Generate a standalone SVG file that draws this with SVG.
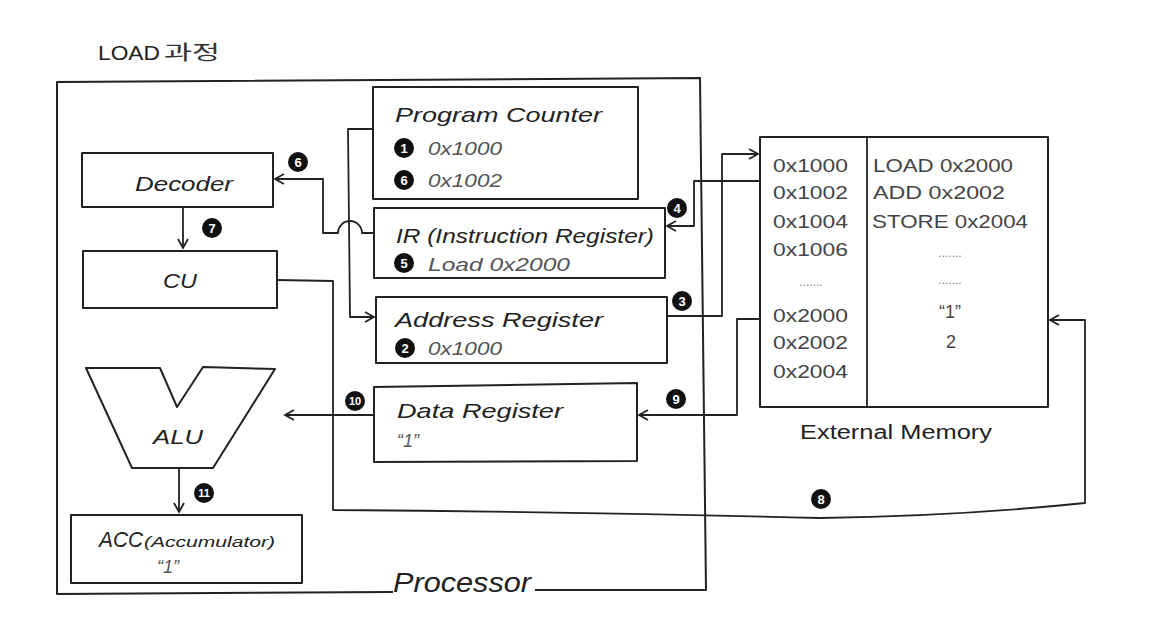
<svg xmlns="http://www.w3.org/2000/svg" width="1166" height="644" viewBox="0 0 1166 644">
<defs>
<style>
.box{fill:#fff;stroke:#222;stroke-width:2;stroke-linejoin:round}
.ln{fill:none;stroke:#222;stroke-width:1.8;stroke-linejoin:round}
.t{font-family:"Liberation Sans","Noto Sans CJK KR",sans-serif;font-style:italic;fill:#222}
.up{font-style:normal}
.v{font-family:"Liberation Sans",sans-serif;font-style:italic;fill:#555}
.m{font-family:"Liberation Sans",sans-serif;fill:#444;font-size:18px}
.b circle{fill:#111}
.b text{font-family:"Liberation Sans",sans-serif;font-weight:bold;fill:#fff;font-size:13px;text-anchor:middle}
.dots{font-family:"Liberation Sans",sans-serif;fill:#777;font-size:12px;text-anchor:middle}
</style>
<marker id="ah" markerWidth="12" markerHeight="12" refX="10" refY="6" orient="auto" markerUnits="userSpaceOnUse">
<path d="M1,1 L10,6 L1,11" fill="none" stroke="#222" stroke-width="1.8"/>
</marker>
</defs>
<rect width="1166" height="644" fill="#fff"/>

<g id="title">
<text class="t up" x="98" y="60" font-size="21" textLength="62" lengthAdjust="spacingAndGlyphs">LOAD</text>
<text x="164" y="60" font-family="Noto Sans CJK KR, sans-serif" font-size="20" fill="#333" textLength="56" lengthAdjust="spacingAndGlyphs">과정</text>
</g>

<g id="processor">
<path class="ln" style="stroke-width:2" d="M393,592 L57,594 L57,82 L700,78 L706,590 L535,590"/>
<text class="t" x="393" y="592" font-size="27" textLength="138" lengthAdjust="spacingAndGlyphs">Processor</text>
</g>

<g id="program-counter">
<rect class="box" x="373" y="87" width="265" height="112"/>
<text class="t" x="395" y="122" font-size="21" textLength="207" lengthAdjust="spacingAndGlyphs">Program Counter</text>
<g class="b" transform="translate(404,148)"><circle r="10"/><text y="5">1</text></g>
<text class="v" x="428" y="155" font-size="18" textLength="74" lengthAdjust="spacingAndGlyphs">0x1000</text>
<g class="b" transform="translate(404,180)"><circle r="10"/><text y="5">6</text></g>
<text class="v" x="428" y="187" font-size="18" textLength="74" lengthAdjust="spacingAndGlyphs">0x1002</text>
</g>

<g id="instruction-register">
<rect class="box" x="374" y="208" width="291" height="70"/>
<text class="t" x="396" y="243" font-size="20" textLength="258" lengthAdjust="spacingAndGlyphs">IR (Instruction Register)</text>
<g class="b" transform="translate(404,263)"><circle r="10"/><text y="5">5</text></g>
<text class="v" x="428" y="271" font-size="19" textLength="142" lengthAdjust="spacingAndGlyphs">Load 0x2000</text>
</g>

<g id="address-register">
<rect class="box" x="376" y="297" width="291" height="66"/>
<text class="t" x="395" y="327" font-size="21" textLength="208" lengthAdjust="spacingAndGlyphs">Address Register</text>
<g class="b" transform="translate(405,348)"><circle r="10"/><text y="5">2</text></g>
<text class="v" x="428" y="355" font-size="18" textLength="74" lengthAdjust="spacingAndGlyphs">0x1000</text>
</g>

<g id="data-register">
<path class="box" d="M374,387 L637,383 L637,461 L374,462 Z"/>
<text class="t" x="397" y="418" font-size="21" textLength="166" lengthAdjust="spacingAndGlyphs">Data Register</text>
<text class="v" x="397" y="447" font-size="18">“1”</text>
</g>

<g id="decoder">
<rect class="box" x="82" y="153" width="191" height="54"/>
<text class="t" x="135" y="191" font-size="21" textLength="98" lengthAdjust="spacingAndGlyphs">Decoder</text>
</g>

<g id="cu">
<rect class="box" x="83" y="251" width="194" height="57"/>
<text class="t" x="163" y="288" font-size="21" textLength="34" lengthAdjust="spacingAndGlyphs">CU</text>
</g>

<g id="alu">
<path class="box" d="M86,368 L160,368 L177,407 L203,367 L275,369 L213,468 L132,468 Z"/>
<text class="t" x="153" y="444" font-size="21" textLength="50" lengthAdjust="spacingAndGlyphs">ALU</text>
</g>

<g id="acc">
<rect class="box" x="71" y="515" width="231" height="68"/>
<text class="t" x="99" y="547" font-size="22" textLength="44" lengthAdjust="spacingAndGlyphs">ACC</text>
<text class="t" x="144" y="547" font-size="15" textLength="131" lengthAdjust="spacingAndGlyphs">(Accumulator)</text>
<text class="v" x="157" y="573" font-size="18">“1”</text>
</g>

<g id="external-memory">
<rect class="box" x="760" y="137" width="288" height="270"/>
<line class="ln" x1="867" y1="137" x2="867" y2="407"/>
<text class="m" x="773" y="172" textLength="75" lengthAdjust="spacingAndGlyphs">0x1000</text>
<text class="m" x="773" y="199" textLength="75" lengthAdjust="spacingAndGlyphs">0x1002</text>
<text class="m" x="773" y="228" textLength="75" lengthAdjust="spacingAndGlyphs">0x1004</text>
<text class="m" x="773" y="256" textLength="75" lengthAdjust="spacingAndGlyphs">0x1006</text>
<text class="dots" x="811" y="286">.......</text>
<text class="m" x="773" y="322" textLength="75" lengthAdjust="spacingAndGlyphs">0x2000</text>
<text class="m" x="773" y="349" textLength="75" lengthAdjust="spacingAndGlyphs">0x2002</text>
<text class="m" x="773" y="378" textLength="75" lengthAdjust="spacingAndGlyphs">0x2004</text>
<text class="m" x="873" y="172" textLength="140" lengthAdjust="spacingAndGlyphs">LOAD 0x2000</text>
<text class="m" x="873" y="199" textLength="132" lengthAdjust="spacingAndGlyphs">ADD 0x2002</text>
<text class="m" x="872" y="228" textLength="156" lengthAdjust="spacingAndGlyphs">STORE 0x2004</text>
<text class="dots" x="950" y="257">.......</text>
<text class="dots" x="950" y="284">.......</text>
<text class="m" x="950" y="318" text-anchor="middle" font-size="16">“1”</text>
<text class="m" x="951" y="348" text-anchor="middle" font-size="15">2</text>
<text class="t up" x="800" y="439" font-size="20" textLength="192" lengthAdjust="spacingAndGlyphs">External Memory</text>
</g>

<g id="connectors">
<path class="ln" d="M373,129 L348,129 L350,317 L374,317" marker-end="url(#ah)"/>
<path class="ln" d="M374,233 L362,233 A12,12 0 0 0 338,233 L323,233 L323,179 L275,179" marker-end="url(#ah)"/>
<g class="b" transform="translate(298,162)"><circle r="10"/><text y="5">6</text></g>
<path class="ln" d="M183,207 L183,248" marker-end="url(#ah)"/>
<g class="b" transform="translate(212,228)"><circle r="10"/><text y="5">7</text></g>
<path class="ln" d="M667,316 L722,316 L722,154 L758,154" marker-end="url(#ah)"/>
<g class="b" transform="translate(682,301)"><circle r="10"/><text y="5">3</text></g>
<path class="ln" d="M760,181 L694,181 L694,226 L667,226" marker-end="url(#ah)"/>
<g class="b" transform="translate(677,208)"><circle r="10"/><text y="5">4</text></g>
<path class="ln" d="M760,319 L737,319 L737,415 L639,415" marker-end="url(#ah)"/>
<g class="b" transform="translate(676,399)"><circle r="10"/><text y="5">9</text></g>
<path class="ln" d="M374,415 L285,415" marker-end="url(#ah)"/>
<g class="b" transform="translate(355,401)"><circle r="10"/><text y="4" style="font-size:11px">10</text></g>
<path class="ln" d="M179,468 L179,512" marker-end="url(#ah)"/>
<g class="b" transform="translate(204,493)"><circle r="10"/><text y="4" style="font-size:11px">11</text></g>
<path class="ln" d="M277,280 L333,281 L333,510 Q580,512 820,518 Q960,516 1085,503 L1085,320 L1050,320" marker-end="url(#ah)"/>
<g class="b" transform="translate(821,499)"><circle r="10"/><text y="5">8</text></g>
</g>
</svg>
